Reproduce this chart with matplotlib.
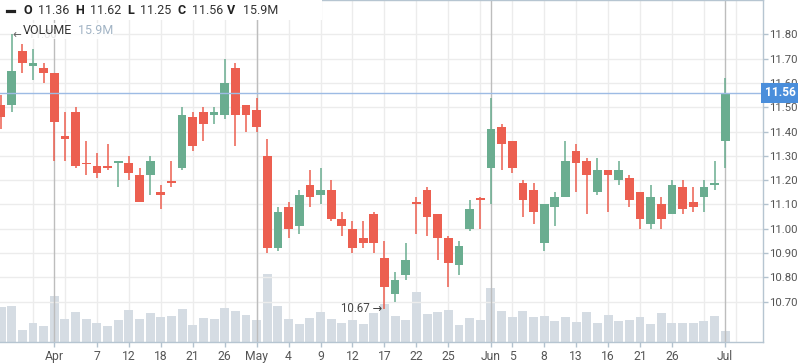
import numpy as np
import matplotlib
matplotlib.use("Agg")
import matplotlib.pyplot as plt
from matplotlib.lines import Line2D
from matplotlib.patches import Rectangle
import matplotlib.transforms as mtrans

plt.rcParams['font.family'] = ['Roboto', 'DejaVu Sans']

# daily candles, first five sessions are before April
opens = [11.51, 11.51, 11.73, 11.67, 11.66,
         11.64, 11.38, 11.48, 11.27, 11.26, 11.26, 11.27, 11.27, 11.22, 11.22,
         11.15, 11.195, 11.25, 11.46, 11.48, 11.47, 11.47, 11.66, 11.51, 11.49,
         11.30, 10.92, 11.09, 11.01, 11.18, 11.14, 11.16, 11.04, 11.00, 10.96,
         11.06, 10.88, 10.73, 10.81, 11.11, 11.16, 11.06, 10.96, 10.85, 11.00,
         11.125, 11.25, 11.42, 11.36, 11.19, 11.16, 10.94, 11.09, 11.13, 11.32,
         11.28, 11.15, 11.24, 11.20, 11.21, 11.15, 11.02, 11.10, 11.06, 11.17,
         11.11, 11.13, 11.18, 11.36]
highs = [11.55, 11.80, 11.76, 11.74, 11.68,
         11.64, 11.48, 11.50, 11.36, 11.31, 11.35, 11.28, 11.30, 11.25, 11.30,
         11.18, 11.28, 11.50, 11.48, 11.50, 11.50, 11.70, 11.68, 11.51, 11.54,
         11.37, 11.09, 11.11, 11.16, 11.24, 11.25, 11.20, 11.07, 11.03, 11.03,
         11.07, 10.95, 10.82, 10.94, 11.13, 11.17, 11.06, 10.97, 10.95, 11.12,
         11.13, 11.54, 11.43, 11.36, 11.20, 11.19, 11.10, 11.15, 11.36, 11.35,
         11.29, 11.29, 11.24, 11.28, 11.22, 11.15, 11.18, 11.13, 11.20, 11.20,
         11.17, 11.20, 11.28, 11.62]
lows = [11.41, 11.48, 11.64, 11.61, 11.60,
        11.28, 11.28, 11.25, 11.22, 11.21, 11.24, 11.17, 11.20, 11.11, 11.14,
        11.08, 11.17, 11.24, 11.32, 11.36, 11.43, 11.45, 11.34, 11.40, 11.40,
        10.90, 10.91, 10.96, 10.98, 11.09, 11.10, 11.03, 10.97, 10.90, 10.92,
        10.90, 10.67, 10.70, 10.79, 10.98, 10.97, 10.87, 10.76, 10.81, 10.99,
        11.00, 11.10, 11.24, 11.23, 11.05, 11.02, 10.91, 11.01, 11.13, 11.15,
        11.06, 11.14, 11.07, 11.18, 11.09, 11.00, 11.00, 11.00, 11.06, 11.06,
        11.07, 11.07, 11.16, 11.25]
closes = [11.46, 11.65, 11.68, 11.68, 11.64,
          11.44, 11.37, 11.26, 11.265, 11.23, 11.25, 11.28, 11.23, 11.11, 11.28,
          11.14, 11.19, 11.47, 11.34, 11.43, 11.48, 11.60, 11.47, 11.47, 11.42,
          10.92, 11.07, 11.00, 11.14, 11.13, 11.16, 11.04, 11.01, 10.92, 10.94,
          10.94, 10.76, 10.79, 10.87, 11.10, 11.05, 10.96, 10.86, 10.93, 11.08,
          11.12, 11.41, 11.35, 11.25, 11.12, 11.07, 11.10, 11.13, 11.28, 11.27,
          11.22, 11.24, 11.22, 11.24, 11.12, 11.04, 11.13, 11.04, 11.18, 11.08,
          11.09, 11.17, 11.19, 11.56]
volumes = [50.2, 51.1, 17.3, 27.2, 23.5,
           65.1, 32.8, 42.6, 32.8, 27.2, 23.5, 31.4, 45.4, 32.8, 41.2,
           35.6, 37.0, 46.9, 24.3, 34.2, 32.8, 48.3, 44.0, 38.4, 31.4,
           96.1, 51.1, 32.8, 25.7, 34.2, 42.6, 32.8, 27.2, 31.4, 25.7,
           41.2, 53.9, 37.0, 31.4, 70.8, 39.8, 42.6, 45.4, 24.3, 34.2,
           31.4, 76.4, 44.0, 35.6, 44.0, 35.6, 37.0, 30.0, 35.6, 28.6,
           42.6, 27.2, 38.4, 30.0, 31.4, 35.6, 25.7, 41.2, 27.2, 27.2,
           27.2, 30.0, 37.0, 15.9]  # millions

tick_pos = [0, 4, 7, 10, 13, 16, 19, 22, 25, 28, 31, 34, 37, 41, 43, 46, 49, 52, 55, 58, 63]
tick_labels = ['Apr', '7', '12', '18', '21', '26', 'May', '4', '9', '12', '17',
               '22', '25', 'Jun', '5', '8', '13', '16', '21', '26', 'Jul']
month_pos = [0, 19, 41, 63]
price_ticks = [10.70, 10.80, 10.90, 11.00, 11.10, 11.20, 11.30, 11.40, 11.50, 11.60, 11.70, 11.80]
last_open, last_high, last_low, last_close, last_vol = 11.36, 11.62, 11.25, 11.56, '15.9M'
period_high, period_low = 11.80, 10.67

GREEN = '#6aad90'
RED = '#ec5f50'

x = np.arange(len(opens)) - 5
o = np.array(opens)
c = np.array(closes)
up = c > o
cols = np.where(up, GREEN, RED)

W, H = 798, 363
def fx(px):
    return px / W
def fy(py):
    return 1 - py / H

fig = plt.figure(figsize=(W / 100, H / 100), dpi=100)
rect = [0, fy(342.3), fx(762.7), (342.3 - 0.3) / H]
ax_v = fig.add_axes(rect)
ax = fig.add_axes(rect, sharex=ax_v)
ax.set_zorder(2)
ax.patch.set_visible(False)

# volume underneath
ax_v.bar(x, volumes, width=0.84, color='#d5dce3', zorder=2)
ax_v.set_ylim(0, 481.6)
for g in np.arange(-2, 67, 3):
    ax_v.axvline(g, color='#ececec', lw=1, zorder=0)
ax_v.set_yticks([])
for s in ax_v.spines.values():
    s.set_visible(False)
ax_v.tick_params(axis='x', which='both', length=0, labelbottom=False)

# price grid + month separators
for p in price_ticks:
    ax.axhline(p, color='#ececec', lw=1, zorder=0)
for m in month_pos:
    ax.axvline(m, color='#bdbdbd', lw=1, zorder=1)

# candles
ax.vlines(x, lows, highs, colors=cols, lw=1.1, zorder=3)
body = np.maximum(np.abs(c - o), 0.005)
ax.bar(x, body, bottom=np.minimum(o, c), width=0.82, color=cols, zorder=4)

ax.axhline(last_close, color='#9dbbe4', lw=1, zorder=5)

ax.set_xlim(-5.1, 66.52)
ax.set_ylim(10.5326, 11.940)

ax.yaxis.tick_right()
ax.set_yticks(price_ticks, [f'{p:.2f}' for p in price_ticks])
ax.set_xticks(tick_pos, tick_labels)
ax.tick_params(axis='both', labelcolor='#555555', color='#b3c2ce', width=1)
ax.tick_params(axis='y', labelsize=8.2, length=3.5, pad=1)
ax.tick_params(axis='x', labelsize=8.7, length=3.5, pad=2)
ax.spines['left'].set_visible(False)
for side in ['top', 'right', 'bottom']:
    ax.spines[side].set_color('#b6c5d1')
    ax.spines[side].set_linewidth(1)

# current price tag
tr = mtrans.blended_transform_factory(ax.transAxes, ax.transData)
ax.text(1.003, last_close, f'{last_close:.2f}', transform=tr, ha='left', va='center',
        color='white', fontsize=8.6, fontweight='bold', clip_on=False, zorder=10,
        bbox=dict(boxstyle='square,pad=0.3', fc='#4a8edb', ec='none'))

# high / low markers
ax.text(31 - 0.22, period_low, f'{period_low:.2f} \u2192', ha='right', va='center',
        fontsize=8.3, color='#444444', zorder=6)
ax.text(-4 + 0.15, period_high, f'\u2190  {period_high:.2f}', ha='left', va='center',
        fontsize=8.3, color='#666666', zorder=6)

# header strip
fig.patches.append(Rectangle((0, fy(20)), fx(322), 20 / H, transform=fig.transFigure,
                             facecolor='white', edgecolor='none', zorder=5))
fig.lines.append(Line2D([fx(7), fx(14)], [fy(11), fy(11)], lw=2.3, color='#222222',
                        transform=fig.transFigure, zorder=6))
header = [('O', 23, True), (f'{last_open:.2f}', 38, False),
          ('H', 75, True), (f'{last_high:.2f}', 90, False),
          ('L', 127, True), (f'{last_low:.2f}', 140, False),
          ('C', 177, True), (f'{last_close:.2f}', 192, False),
          ('V', 227, True), (last_vol, 243, False)]
for txt, px, bold in header:
    fig.text(fx(px), fy(11), txt, ha='left', va='center', fontsize=9,
             fontweight='bold' if bold else 'normal',
             color='#222222' if bold else '#333333', zorder=7)

# volume legend
fig.patches.append(Rectangle((fx(21), fy(39)), fx(92), 16 / H, transform=fig.transFigure,
                             facecolor='white', alpha=0.85, edgecolor='none', zorder=8))
fig.text(fx(23), fy(30.5), 'VOLUME', ha='left', va='center', fontsize=9,
         color='#333333', zorder=9)
fig.text(fx(78), fy(30.5), last_vol, ha='left', va='center', fontsize=9,
         color='#a2b4c5', zorder=9)

fig.savefig('out.png', dpi=100, facecolor='white')
